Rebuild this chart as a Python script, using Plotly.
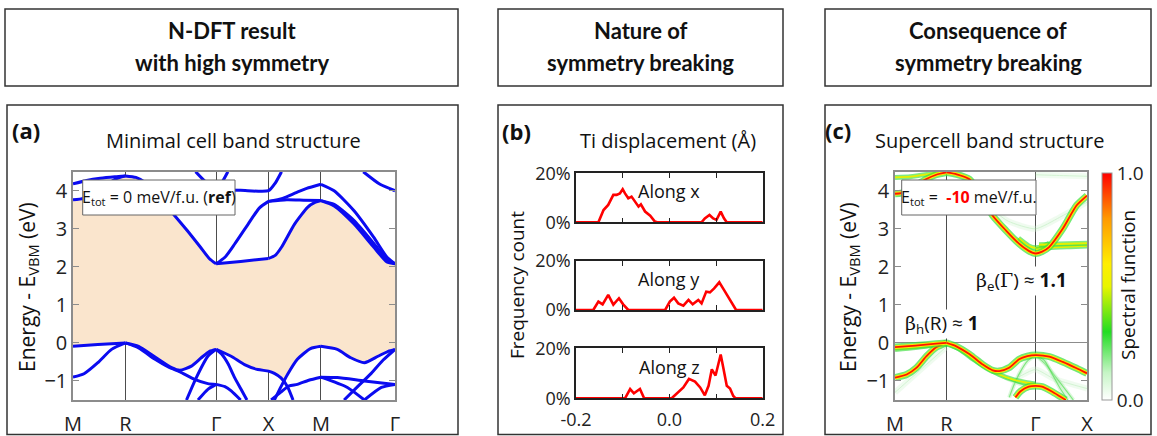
import numpy as np
import plotly.graph_objects as go

W, H = 1157, 436


def fx(p):
    return p / W


def fy(p):
    return 1 - p / H


# ---------------------------------------------------------------- k-paths
K_MIN = [0.0, 0.5, 1.366, 1.866, 2.366, 3.073]
K_MIN_LBL = ["M", "R", "Γ", "X", "M", "Γ"]
K_SUP = [0.0, 0.5, 1.366, 1.866]
K_SUP_LBL = ["M", "R", "Γ", "X"]
E_TICKS = [-1, 0, 1, 2, 3, 4]

# ---------------------------------------------------------------- (a) minimal-cell bands (k, E in eV)
cond_bands_a = [
    ([0.0, 0.1, 0.25, 0.4, 0.5], [3.76, 3.8, 4.02, 4.3, 4.39]),
    ([0.0, 0.13, 0.26, 0.4, 0.5], [4.18, 4.27, 4.33, 4.37, 4.39]),
    ([0.5, 0.6, 0.7, 0.8, 0.929, 1.088, 1.215, 1.3, 1.366], [4.39, 4.35, 4.2, 3.9, 3.48, 2.96, 2.52, 2.22, 2.08]),
    ([1.17, 1.255, 1.366], [4.5, 4.26, 4.02]),
    ([1.366, 1.43, 1.478], [4.02, 4.26, 4.5]),
    ([1.366, 1.6, 1.866, 1.93, 1.99], [4.02, 4.01, 4.0, 4.2, 4.5]),
    ([1.366, 1.45, 1.543, 1.673, 1.78, 1.866], [2.08, 2.25, 2.6, 3.13, 3.55, 3.72]),
    ([1.366, 1.6, 1.866], [2.08, 2.14, 2.22]),
    ([1.866, 1.93, 1.991, 2.116, 2.241, 2.3, 2.366], [2.22, 2.3, 2.52, 3.13, 3.57, 3.68, 3.74]),
    ([1.866, 2.04, 2.2, 2.366], [3.72, 3.76, 3.75, 3.74]),
    ([1.866, 2.0, 2.13, 2.23, 2.366], [3.72, 3.8, 3.95, 4.06, 4.17]),
    ([2.366, 2.492, 2.68, 2.869, 2.995, 3.073], [4.17, 4.0, 3.48, 2.78, 2.26, 2.08]),
    ([2.366, 2.492, 2.68, 2.869, 2.995, 3.073], [3.74, 3.6, 3.13, 2.52, 2.13, 2.08]),
    ([2.366, 2.492, 2.68, 2.869, 2.995, 3.073], [3.74, 3.64, 3.22, 2.62, 2.2, 2.08]),
    ([2.77, 2.93, 3.073], [4.5, 4.17, 4.0]),
]
val_bands_a = [
    ([0.0, 0.237, 0.5], [-0.09, -0.04, 0.0]),
    ([0.0, 0.105, 0.237, 0.368, 0.5], [-0.9, -0.81, -0.52, -0.17, 0.0]),
    ([0.5, 0.626, 0.783, 0.941, 1.02, 1.13, 1.224, 1.303, 1.366], [0.0, -0.09, -0.37, -0.65, -0.72, -0.61, -0.39, -0.22, -0.17]),
    ([0.5, 0.626, 0.783, 0.909, 1.035, 1.161, 1.287, 1.366], [0.0, -0.13, -0.43, -0.63, -0.78, -0.96, -1.07, -1.09]),
    ([1.083, 1.177, 1.287, 1.366], [-1.5, -0.91, -0.35, -0.17]),
    ([1.193, 1.287, 1.366], [-1.5, -1.22, -1.09]),
    ([1.366, 1.509, 1.637, 1.764, 1.866, 1.922, 1.985, 2.047, 2.1], [-0.17, -0.35, -0.57, -0.7, -0.74, -0.8, -0.92, -1.15, -1.5]),
    ([1.366, 1.42, 1.48, 1.54, 1.6, 1.66], [-0.17, -0.3, -0.55, -0.9, -1.2, -1.5]),
    ([1.366, 1.45, 1.51, 1.6], [-1.09, -1.15, -1.26, -1.5]),
    ([1.922, 1.985, 2.047, 2.141, 2.266, 2.366], [-1.5, -1.15, -0.83, -0.43, -0.15, -0.09]),
    ([1.891, 1.98, 2.063, 2.141, 2.25, 2.366], [-1.5, -1.3, -1.13, -1.09, -0.98, -0.9]),
    ([2.366, 2.522, 2.651, 2.781, 2.911, 3.008, 3.073], [-0.09, -0.17, -0.39, -0.52, -0.35, -0.22, -0.17]),
    ([2.366, 2.522, 2.781, 3.073], [-0.9, -0.91, -1.0, -1.09]),
    ([2.587, 2.716, 2.846, 2.96, 3.073], [-1.5, -1.15, -0.8, -0.45, -0.17]),
    ([2.781, 2.943, 3.073], [-1.5, -1.17, -1.09]),
    ([2.366, 2.619, 2.781], [-0.9, -1.17, -1.5]),
]

# ---------------------------------------------------------------- (b) Ti displacement histograms (Å, %)
disp_x = [-0.2, -0.152, -0.141, -0.131, -0.12, -0.113, -0.106, -0.1, -0.095, -0.088, -0.081, -0.074,
          -0.066, -0.061, -0.052, -0.041, -0.031, -0.026, 0.069, 0.076, 0.086, 0.094, 0.101, 0.11,
          0.117, 0.123, 0.2]
freq_x = [0, 0, 5.0, 7.1, 11.2, 11.2, 11.8, 13.5, 11.8, 9.8, 10.5, 8.4,
          6.4, 7.3, 4.4, 2.7, 0.3, 0, 0, 1.6, 3.0, 1.6, 1.0, 4.35,
          1.6, 0, 0]
disp_y = [-0.2, -0.163, -0.152, -0.143, -0.131, -0.12, -0.108, -0.099, -0.088, -0.009, 0.001, 0.01,
          0.019, 0.03, 0.041, 0.05, 0.062, 0.069, 0.079, 0.087, 0.096, 0.107, 0.117, 0.126,
          0.137, 0.143, 0.2]
freq_y = [0, 0, 3.4, 2.3, 6.2, 2.2, 4.8, 2.3, 0, 0, 3.4, 5.0,
          2.7, 1.8, 4.1, 2.3, 4.1, 2.7, 7.5, 7.2, 8.8, 11.3, 8.2, 5.4,
          2.0, 0, 0]
disp_z = [-0.2, -0.095, -0.084, -0.076, -0.063, -0.054, 0.005, 0.019, 0.03, 0.042, 0.055, 0.066,
          0.076, 0.084, 0.091, 0.099, 0.11, 0.116, 0.123, 0.13, 0.137, 0.142, 0.2]
freq_z = [0, 0, 3.7, 2.0, 3.7, 0, 0, 2.3, 4.35, 7.75, 6.7, 4.35,
          1.2, 5.0, 11.6, 9.1, 17.5, 11.8, 5.0, 3.9, 0.95, 0, 0]

# ---------------------------------------------------------------- (c) unfolded supercell bands
strong_bands_c = [
    ([0.0, 0.113, 0.21, 0.306, 0.403, 0.5], [-0.91, -0.83, -0.65, -0.35, -0.11, 0.0]),
    ([0.0, 0.2, 0.4, 0.5], [-0.11, -0.07, -0.02, 0.0]),
    ([0.5, 0.596, 0.725, 0.853, 0.949, 1.013, 1.109, 1.206, 1.286, 1.366, 1.5, 1.63, 1.76, 1.866],
     [0.0, -0.09, -0.3, -0.57, -0.72, -0.74, -0.65, -0.43, -0.35, -0.32, -0.36, -0.5, -0.66, -0.8]),
    ([1.17, 1.22, 1.3, 1.366, 1.43, 1.52, 1.6, 1.66], [-1.43, -1.27, -1.15, -1.13, -1.15, -1.27, -1.4, -1.5]),
    ([0.0, 0.06, 0.15, 0.3, 0.4, 0.5], [3.92, 3.94, 4.05, 4.3, 4.42, 4.48]),
    ([0.5, 0.6, 0.724, 0.83, 0.948, 1.077, 1.205, 1.3, 1.366, 1.43, 1.498, 1.63, 1.764, 1.866],
     [4.48, 4.43, 4.3, 3.9, 3.35, 2.96, 2.61, 2.42, 2.35, 2.4, 2.52, 3.0, 3.61, 3.87]),
]
weak_bands_c = [
    ([0.0, 0.15, 0.31, 0.4, 0.5], [4.35, 4.37, 4.43, 4.47, 4.5]),
    ([0.5, 0.63, 0.76, 0.89, 1.013, 1.141, 1.27, 1.366], [0.0, -0.17, -0.43, -0.65, -0.83, -0.96, -1.04, -1.08]),
    ([1.2, 1.3, 1.366, 1.43, 1.5], [2.75, 2.55, 2.5, 2.53, 2.62]),
    ([1.366, 1.5, 1.7, 1.866], [2.45, 2.5, 2.53, 2.55]),
    ([1.4, 1.6, 1.866], [2.58, 2.6, 2.62]),
    ([0.0, 0.2, 0.4, 0.5], [-0.17, -0.12, -0.04, 0.0]),
]
faint_bands_c = [
    ([1.366, 1.466, 1.566, 1.666, 1.733], [-0.32, -0.57, -0.91, -1.26, -1.5]),
    ([1.366, 1.45, 1.53, 1.6, 1.68], [-0.32, -0.45, -0.83, -1.17, -1.5]),
    ([1.11, 1.158, 1.222, 1.286, 1.366], [-1.43, -1.09, -0.74, -0.48, -0.32]),
    ([0.95, 1.1, 1.25, 1.366], [-0.75, -0.95, -1.1, -1.13]),
]
haze_bands_c = [
    ([1.366, 1.6, 1.866], [4.42, 4.4, 4.38]),
    ([0.9, 1.1, 1.366, 1.6, 1.866], [3.6, 3.2, 3.0, 3.3, 3.7]),
    ([0.0, 0.25, 0.5], [-1.3, -0.7, -0.1]),
    ([1.2, 1.366, 1.55, 1.866], [-0.9, -0.7, -0.95, -1.2]),
]

SPECTRAL = [[0.0, "#ffffff"], [0.12, "#c6f5c6"], [0.3, "#22dd22"], [0.5, "#e8f500"],
            [0.6, "#ffee00"], [0.8, "#ff9900"], [1.0, "#ff0000"]]

BLUE = "#0b0bf0"
FONT = "Open Sans"
HEAD_FONT = "Lato"

fig = go.Figure()

# ---- (a) gap fill between valence-band top and conduction-band bottom
kgrid = np.linspace(0, K_MIN[-1], 1600)


def on_grid(band):
    k, e = np.asarray(band[0]), np.asarray(band[1])
    v = np.interp(kgrid, k, e)
    v[(kgrid < k.min() - 1e-9) | (kgrid > k.max() + 1e-9)] = np.nan
    return v


cbm = np.nanmin([on_grid(b) for b in cond_bands_a], axis=0)
vbm = np.nanmax([on_grid(b) for b in val_bands_a], axis=0)

fig.add_trace(go.Scatter(x=kgrid, y=vbm, mode="lines", line=dict(width=0), hoverinfo="skip",
                         showlegend=False, xaxis="x", yaxis="y"))
fig.add_trace(go.Scatter(x=kgrid, y=cbm, mode="lines", line=dict(width=0), fill="tonexty",
                         fillcolor="#fae5cd", hoverinfo="skip", showlegend=False, xaxis="x", yaxis="y"))

for k, e in cond_bands_a + val_bands_a:
    fig.add_trace(go.Scatter(x=k, y=e, mode="lines",
                             line=dict(color=BLUE, width=3, shape="spline", smoothing=0.6),
                             showlegend=False, hoverinfo="skip", xaxis="x", yaxis="y"))

# ---- (b) histograms
for xs, ys, ax in [(disp_x, freq_x, "2"), (disp_y, freq_y, "3"), (disp_z, freq_z, "4")]:
    fig.add_trace(go.Scatter(x=xs, y=ys, mode="lines", line=dict(color="#ff0000", width=2.6),
                             showlegend=False, hoverinfo="skip", xaxis="x" + ax, yaxis="y" + ax))


# ---- (c) spectral function, drawn as layered strokes
def add_c(band, width, color, opacity):
    fig.add_trace(go.Scatter(x=band[0], y=band[1], mode="lines", opacity=opacity,
                             line=dict(color=color, width=width, shape="spline", smoothing=0.6),
                             showlegend=False, hoverinfo="skip", xaxis="x5", yaxis="y5"))


for b in haze_bands_c:
    add_c(b, 6, "#d4f5d4", 0.35)
    add_c(b, 1, "#9fe89f", 0.35)
for b in faint_bands_c:
    add_c(b, 4, "#a6eca6", 0.4)
    add_c(b, 1.2, "#44dd44", 0.6)
for b in weak_bands_c:
    add_c(b, 5, "#3ddf3d", 0.65)
    add_c(b, 1.8, "#e6f000", 1.0)
for b in strong_bands_c:
    add_c(b, 7, "#38e038", 0.7)
    add_c(b, 3.8, "#ffe600", 1.0)
    add_c(b, 1.8, "#ff1400", 1.0)

# colour bar carrier
fig.add_trace(go.Scatter(
    x=[-5, -5], y=[10, 10], mode="markers", showlegend=False, hoverinfo="skip",
    xaxis="x5", yaxis="y5",
    marker=dict(color=[0, 1], cmin=0, cmax=1, colorscale=SPECTRAL, showscale=True, size=1,
                colorbar=dict(x=fx(1101.5), xanchor="left", y=fy(400), yanchor="bottom",
                              len=(400 - 173) / H, lenmode="fraction", thickness=10,
                              thicknessmode="pixels", xpad=0, ypad=0, outlinecolor="#999999",
                              outlinewidth=1, tickvals=[0, 1], ticktext=["0.0", "1.0"], ticks="",
                              tickfont=dict(family=FONT, size=19, color="#222")))))

# ---------------------------------------------------------------- axes
frame = "#8c8c8c"
band_x = dict(showgrid=True, gridcolor="#4d4d4d", gridwidth=1, showline=True, mirror=True,
              linecolor=frame, linewidth=1.5, ticks="", zeroline=False, automargin=False,
              ticklabelstandoff=5, tickfont=dict(family=FONT, size=20, color="#222"))
band_y = dict(range=[-1.5, 4.5], tickvals=E_TICKS, showgrid=False, zeroline=True,
              zerolinecolor="#8c8c8c", zerolinewidth=1, showline=True, mirror="ticks",
              ticks="inside", ticklen=6, tickcolor=frame, linecolor=frame, linewidth=1.5,
              automargin=False, tickfont=dict(family=FONT, size=20, color="#222"))
hist_x = dict(range=[-0.2, 0.2], tickvals=[-0.2, -0.1, 0, 0.1, 0.2], ticks="inside", ticklen=5,
              tickcolor="#222", showline=True, mirror="ticks", linecolor="#222", linewidth=1.5,
              showgrid=False, zeroline=False, automargin=False, ticklabelstandoff=4,
              tickfont=dict(family=FONT, size=18, color="#222"))
hist_y = dict(range=[0, 20], tickvals=[0, 20], ticktext=["0%", "20%"], ticks="", showline=True,
              mirror=True, linecolor="#222", linewidth=1.5, showgrid=False, zeroline=False,
              automargin=False, tickfont=dict(family=FONT, size=18, color="#222"))

xb_dom = [fx(576), fx(762.7)]
fig.update_layout(
    xaxis=dict(domain=[fx(73), fx(395)], anchor="y", range=[0, K_MIN[-1]], tickvals=K_MIN,
               ticktext=K_MIN_LBL, **band_x),
    yaxis=dict(domain=[fy(400), fy(171.7)], anchor="x", **band_y),
    xaxis2=dict(domain=xb_dom, anchor="y2", showticklabels=False, **hist_x),
    yaxis2=dict(domain=[fy(222.3), fy(173.3)], anchor="x2", **hist_y),
    xaxis3=dict(domain=xb_dom, anchor="y3", showticklabels=False, **hist_x),
    yaxis3=dict(domain=[fy(310), fy(261)], anchor="x3", **hist_y),
    xaxis4=dict(domain=xb_dom, anchor="y4", ticktext=["-0.2", "", "0.0", "", "0.2"], **hist_x),
    yaxis4=dict(domain=[fy(398.3), fy(348.3)], anchor="x4", **hist_y),
    xaxis5=dict(domain=[fx(895), fx(1087)], anchor="y5", range=[0, K_SUP[-1]], tickvals=K_SUP,
                ticktext=K_SUP_LBL, **band_x),
    yaxis5=dict(domain=[fy(400), fy(171.7)], anchor="x5", **band_y),
)

# ---------------------------------------------------------------- frames
shapes = []


def rect(x0, y0, x1, y1, color="#333333", width=1.5, fill=None, layer="below"):
    shapes.append(dict(type="rect", xref="paper", yref="paper", x0=fx(x0), x1=fx(x1), y0=fy(y1), y1=fy(y0),
                       line=dict(color=color, width=width), fillcolor=fill, layer=layer))


for x0, x1 in [(5, 458), (498, 783), (825, 1151)]:
    rect(x0, 9, x1, 86)
    rect(x0 if x0 != 5 else 7, 105, x1, 434.5)

rect(82.7, 180, 235, 215, color="#666666", width=1, fill="white", layer="above")
rect(901.7, 180, 1036, 215, color="#666666", width=1, fill="white", layer="above")
fig.update_layout(shapes=shapes)

# ---------------------------------------------------------------- text
anns = []


def text(t, x, y, size, color="#111111", angle=0, family=FONT, bg=None, xanchor="center"):
    a = dict(text=t, x=fx(x), y=fy(y), xref="paper", yref="paper", showarrow=False,
             xanchor=xanchor, yanchor="middle", textangle=angle,
             font=dict(family=family, size=size, color=color))
    if bg:
        a.update(bgcolor=bg, borderpad=0)
    anns.append(a)


text("<b>N-DFT result</b>", 231.5, 30, 22, family=HEAD_FONT)
text("<b>with high symmetry</b>", 231.5, 63, 22, family=HEAD_FONT)
text("<b>Nature of</b>", 640.5, 30, 22, family=HEAD_FONT)
text("<b>symmetry breaking</b>", 640.5, 63, 22, family=HEAD_FONT)
text("<b>Consequence of</b>", 988, 30, 22, family=HEAD_FONT)
text("<b>symmetry breaking</b>", 988, 63, 22, family=HEAD_FONT)

text("<b>(a)</b>", 25.5, 130, 22)
text("<b>(b)</b>", 516, 131, 22)
text("<b>(c)</b>", 838, 130, 22)
text("Minimal cell band structure", 233.5, 140, 20)
text("Ti displacement (Å)", 668, 140, 20)
text("Supercell band structure", 990, 140, 20)

text("Energy - E<sub>VBM</sub> (eV)", 28, 287, 21, angle=-90)
text("Energy - E<sub>VBM</sub> (eV)", 849, 287, 21, angle=-90)
text("Frequency count", 517, 285, 19, angle=-90)
text("Spectral function", 1128, 285, 19, angle=-90)

text("Along x", 669, 191, 18)
text("Along y", 669, 279, 18)
text("Along z", 669, 367, 18)

text("E<sub>tot</sub> = 0 meV/f.u. (<b>ref</b>)", 159, 197.5, 16)
text("E<sub>tot</sub> =  <b><span style='color:#ff0000'>-10</span></b> meV/f.u.", 969, 197.5, 16)

text("<span style='font-family:DejaVu Serif'>β</span><sub>h</sub>(R) ≈ <b>1</b>", 941.7, 324, 19, bg="white")
text("<span style='font-family:DejaVu Serif'>β</span><sub>e</sub>(<span style='font-family:DejaVu Serif'>Γ</span>) ≈ <b>1.1</b>",
     1021, 280.5, 19, bg="white")

fig.update_layout(annotations=anns)

fig.update_layout(width=W, height=H, margin=dict(l=0, r=0, t=0, b=0, autoexpand=False),
                  paper_bgcolor="white", plot_bgcolor="white", showlegend=False,
                  font=dict(family=FONT, color="#111"))

fig.write_html("out.html")
